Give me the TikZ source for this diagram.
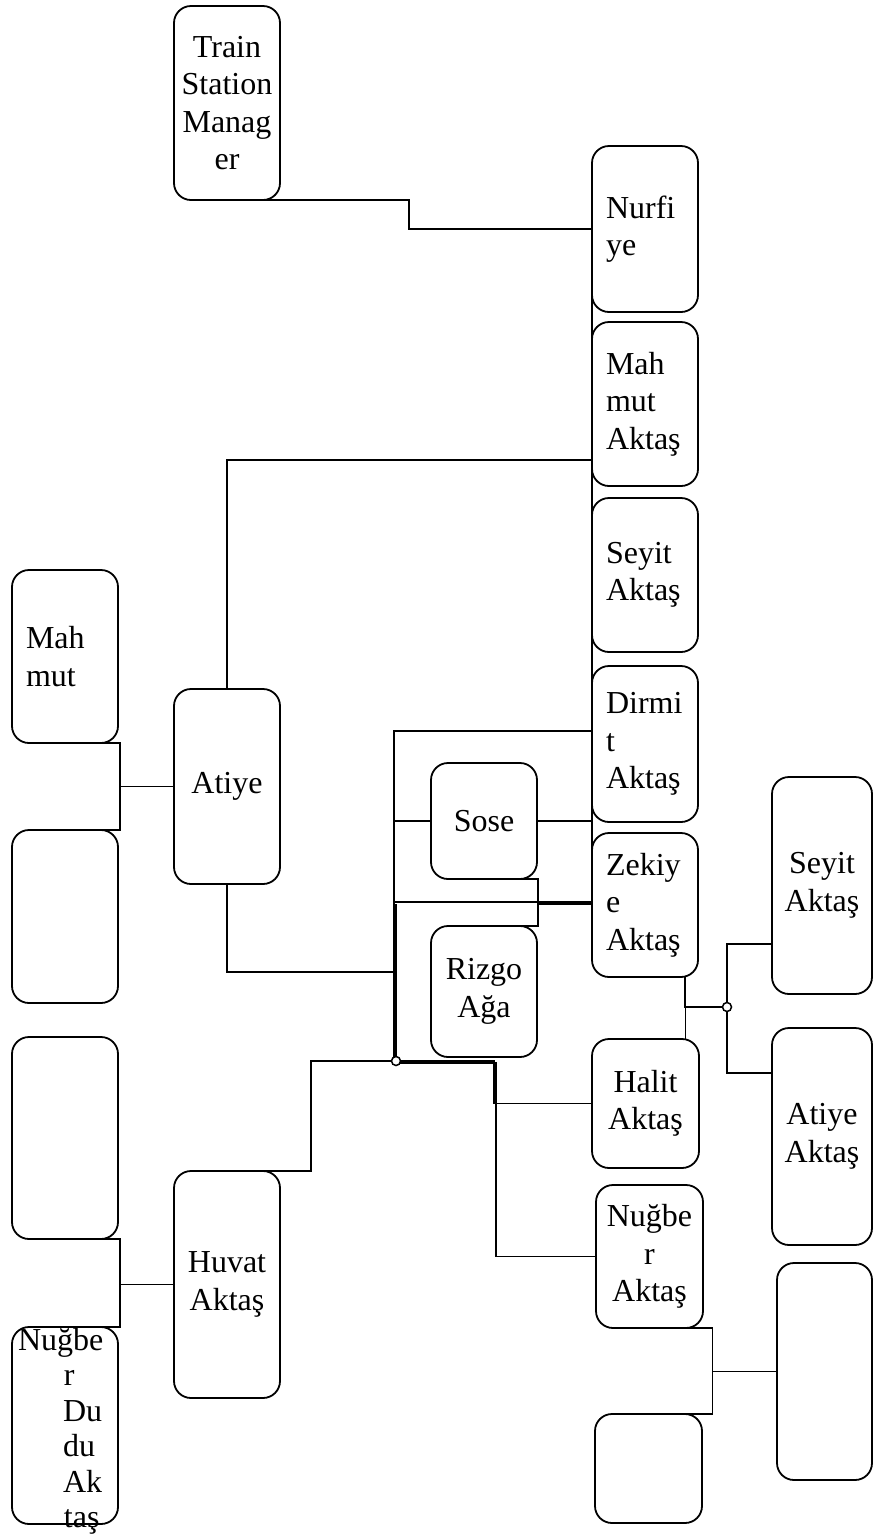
\documentclass[tikz,border=0pt]{standalone}
\usepackage{fontspec}
\setmainfont{Liberation Serif}
\usetikzlibrary{calc}
\tikzset{
  person/.style={draw, line width=1.8pt, rounded corners=17pt, outer sep=0pt,
    inner sep=0pt, align=center, font=\fontsize{32}{37.5}\selectfont},
  leftText/.style={align=left, text width=78pt, inner xsep=14pt},
  wh/.style 2 args={minimum width=#1pt, minimum height=#2pt},
  link/.style={line width=1.8pt},
  junction/.style={circle, draw, fill=white, line width=1.5pt, minimum size=9pt, inner sep=0pt}
}
\begin{document}
\begin{tikzpicture}[x=1pt, y=-1pt]
\useasboundingbox (0,0) rectangle (874,1535);
\fill[white] (0,0) rectangle (874,1535);

% family members
\node[person, wh={106}{194}] (tsm) at (227,103) {Train\\Station\\Manag\\er};
\node[person, leftText, wh={106}{166}] (nurfiye) at (645,229) {Nurfi\\ye};
\node[person, leftText, wh={106}{164}] (mahmutA) at (645,404) {Mah\\mut\\Aktaş};
\node[person, leftText, wh={106}{154}] (seyitA) at (645,575) {Seyit\\Aktaş};
\node[person, leftText, wh={106}{156}] (dirmit) at (645,744) {Dirmi\\t\\Aktaş};
\node[person, leftText, wh={106}{144}] (zekiye) at (645,905) {Zekiy\\e\\Aktaş};
\node[person, wh={106}{116}] (sose) at (484,821) {Sose};
\node[person, wh={106}{131}] (rizgo) at (484,991.5) {Rizgo\\Ağa};
\node[person, wh={107}{129}] (halit) at (645.5,1103.5) {Halit\\Aktaş};
\node[person, wh={107}{143}] (nugberA) at (649.5,1256.5) {Nuğbe\\r\\Aktaş};
\node[person, wh={107}{109}] (emptyS) at (648.5,1468.5) {};
\node[person, wh={100}{217}] (seyitR) at (822,885.5) {Seyit\\Aktaş};
\node[person, wh={100}{217}] (atiyeR) at (822,1136.5) {Atiye\\Aktaş};
\node[person, wh={95}{217}] (emptyR) at (824.5,1371.5) {};
\node[person, wh={106}{195}] (atiye) at (227,786.5) {Atiye};
\node[person, wh={106}{227}] (huvat) at (227,1284.5) {Huvat\\Aktaş};
\node[person, leftText, wh={106}{173}] (mahmut) at (65,656.5) {Mah\\mut};
\node[person, wh={106}{173}] (emptyA) at (65,916.5) {};
\node[person, wh={106}{202}] (emptyB) at (65,1138) {};
\node[person, wh={106}{197}] (nugberD) at (65,1425.5)
  {\raisebox{-12pt}[0pt][0pt]{\parbox[c]{78pt}{\fontsize{32}{35.5}\selectfont\raggedright
   \hspace*{-8pt}Nuğbe\\\hspace*{38pt}r\\\hspace*{37pt}Du\\\hspace*{37pt}du\\
   \hspace*{37pt}Ak\\\hspace*{38pt}taş}}};

% junction points of the connectors
\coordinate (jc) at (396,1061);
\coordinate (kidTop) at (394,731);
\coordinate (spineEnd) at (592,904);
\coordinate (maOut) at (592,460);
\coordinate (atJoin) at (394,972);
\coordinate (zIn) at (592,902);
\coordinate (jc2) at (727,1007);
\coordinate (sIn) at (772,944);
\coordinate (aIn) at (772,1073);

% connectors
\draw[link] (tsm.south) -- ++(182,0) |- (nurfiye.west);
\draw[link] (nurfiye.west) -- (spineEnd);
\draw[link] (maOut) -| (atiye.north);
\draw[link] (atiye.west) -- ++(-54,0) |- (mahmut.south);
\draw[link] (atiye.west) -- ++(-54,0) |- (emptyA.north);
\draw[link] (atiye.south) |- (atJoin);
\draw[link] (jc) -- (jc -| kidTop) -- (kidTop) -- (kidTop -| dirmit.west);
\draw[link] (sose.west -| kidTop) -- (sose.west);
\draw[link] (sose.east) -- (sose.east -| dirmit.west);
\draw[link] (zIn -| kidTop) -- (zIn);
\draw[link] (jc |- spineEnd) -- (jc);
\draw[link] (sose.south) -- ++(54,0) |- (rizgo.north);
\draw[link] (spineEnd -| sose.east) -- (spineEnd);
\draw[link] (huvat.north) -- ++(84,0) |- (jc);
\draw[link] (jc) -- ++(98,0) |- (halit.west);
\draw[link] ($(jc)+(0,2)$) -- ++(100,0) |- (nugberA.west);
\draw[link] ($(zekiye.south)+(40,0)$) |- (jc2);
\draw[link] ($(halit.north)+(40,0)$) |- (jc2);
\draw[link] (jc2) |- (sIn);
\draw[link] (jc2) |- (aIn);
\draw[link] (nugberA.south) -- ++(63,0) |- (emptyS.north);
\draw[link] (emptyR.west) -- ++(-64.5,0);
\draw[link] (huvat.west) -- ++(-54,0) |- (emptyB.south);
\draw[link] (huvat.west) -- ++(-54,0) |- (nugberD.north);

\node[junction] (dotA) at (jc) {};
\node[junction] (dotB) at (jc2) {};
\end{tikzpicture}
\end{document}
